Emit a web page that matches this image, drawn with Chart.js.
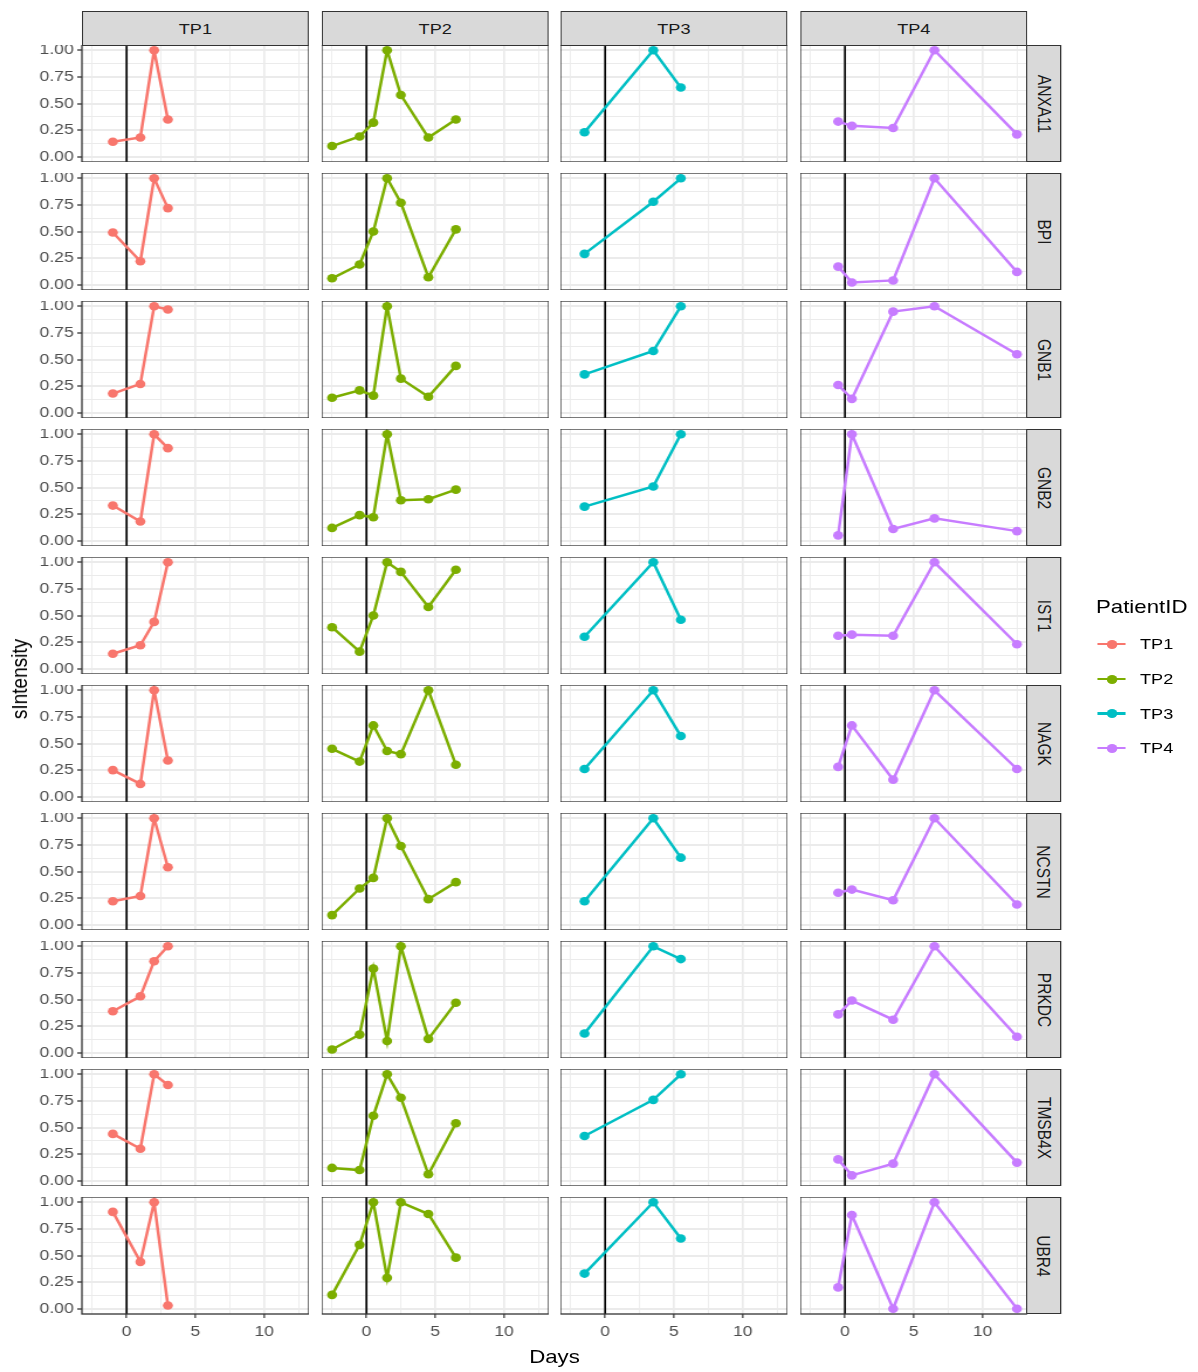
<!DOCTYPE html>
<html>
<head>
<meta charset="utf-8">
<script src="https://cdn.jsdelivr.net/npm/chart.js@4.4.0/dist/chart.umd.min.js"></script>
<style>
  body { margin: 0; background: #fff; width: 1198px; height: 1372px; overflow: hidden;
         font-family: "Liberation Sans", Arial, sans-serif; }
  #fig { position: absolute; left: 0; top: 0; width: 1024px; height: 1372px; transform-origin: 0 0; }
  #fig canvas { position: absolute; }
  .strip { position: absolute; box-sizing: border-box; background: #d9d9d9; border: 1.3px solid #333;
           color: #1a1a1a; font-size: 15.5px; display: flex; align-items: center; justify-content: center; }
  .strip span { white-space: nowrap; }
  .strip.side span { transform: rotate(90deg); }
  .txt { position: absolute; white-space: nowrap; color: #000; }
  .key { position: absolute; }
</style>
</head>
<body>
<div id="fig"></div>
<script>
// ---- data ----
var patients = ["TP1", "TP2", "TP3", "TP4"];
var genes = ["ANXA11", "BPI", "GNB1", "GNB2", "IST1", "NAGK", "NCSTN", "PRKDC", "TMSB4X", "UBR4"];
var colors = ["#F8766D", "#7CAE00", "#00BFC4", "#C77CFF"];

var daysTP1 = [-1, 1, 2, 3];
var daysTP2 = [-2.5, -0.5, 0.5, 1.5, 2.5, 4.5, 6.5];
var daysTP3 = [-1.5, 3.5, 5.5];
var daysTP4 = [-0.5, 0.5, 3.5, 6.5, 12.5];

// one row per gene, same order as genes
var intensityTP1 = [
  [0.14, 0.18, 1.00, 0.35],
  [0.49, 0.22, 1.00, 0.72],
  [0.18, 0.27, 1.00, 0.97],
  [0.33, 0.18, 1.00, 0.87],
  [0.14, 0.22, 0.44, 1.00],
  [0.25, 0.12, 1.00, 0.34],
  [0.22, 0.27, 1.00, 0.54],
  [0.39, 0.53, 0.86, 1.00],
  [0.44, 0.30, 1.00, 0.90],
  [0.91, 0.44, 1.00, 0.03]
];
var intensityTP2 = [
  [0.10, 0.19, 0.32, 1.00, 0.58, 0.18, 0.35],
  [0.06, 0.19, 0.50, 1.00, 0.77, 0.07, 0.52],
  [0.14, 0.21, 0.16, 1.00, 0.32, 0.15, 0.44],
  [0.12, 0.24, 0.22, 1.00, 0.38, 0.39, 0.48],
  [0.39, 0.16, 0.50, 1.00, 0.91, 0.58, 0.93],
  [0.45, 0.33, 0.67, 0.43, 0.40, 1.00, 0.30],
  [0.09, 0.34, 0.44, 1.00, 0.74, 0.24, 0.40],
  [0.03, 0.17, 0.79, 0.11, 1.00, 0.13, 0.47],
  [0.12, 0.10, 0.61, 1.00, 0.78, 0.06, 0.54],
  [0.13, 0.60, 1.00, 0.29, 1.00, 0.89, 0.48]
];
var intensityTP3 = [
  [0.23, 1.00, 0.65],
  [0.29, 0.78, 1.00],
  [0.36, 0.58, 1.00],
  [0.32, 0.51, 1.00],
  [0.30, 1.00, 0.46],
  [0.26, 1.00, 0.57],
  [0.22, 1.00, 0.63],
  [0.18, 1.00, 0.88],
  [0.42, 0.76, 1.00],
  [0.33, 1.00, 0.66]
];
var intensityTP4 = [
  [0.33, 0.29, 0.27, 1.00, 0.21],
  [0.17, 0.02, 0.04, 1.00, 0.12],
  [0.26, 0.13, 0.95, 1.00, 0.55],
  [0.05, 1.00, 0.11, 0.21, 0.09],
  [0.31, 0.32, 0.31, 1.00, 0.23],
  [0.28, 0.67, 0.16, 1.00, 0.26],
  [0.30, 0.33, 0.23, 1.00, 0.19],
  [0.36, 0.49, 0.31, 1.00, 0.15],
  [0.20, 0.05, 0.16, 1.00, 0.17],
  [0.20, 0.88, 0.00, 1.00, 0.00]
];

var xMajor = [0, 5, 10];
var xGrid = [-2.5, 0, 2.5, 5, 7.5, 10, 12.5];
var yMajor = [0, 0.25, 0.5, 0.75, 1];
var yGrid = [0, 0.125, 0.25, 0.375, 0.5, 0.625, 0.75, 0.875, 1];

var dayLists = [daysTP1, daysTP2, daysTP3, daysTP4];
var intensityLists = [intensityTP1, intensityTP2, intensityTP3, intensityTP4];

// ---- layout (the reference is stretched sideways, so x is laid out narrower and scaled) ----
var S = 1.17;
var realLeft = [82.3, 321.6, 561.0, 800.4];
var realW = 226.8;
var panelTop0 = 44.6, rowPitch = 128.08, panelH = 117;
var yAxisW = 62, xAxisH = 36;
var tickFont = { family: "'Liberation Sans', Arial, sans-serif", size: 15 };

var fig = document.getElementById("fig");
fig.style.transform = "scaleX(" + S + ")";

function px(v) { return v + "px"; }
function isIn(list, v) {
  for (var i = 0; i < list.length; i++) if (Math.abs(list[i] - v) < 1e-9) return true;
  return false;
}

var panelPlugin = {
  id: "panel",
  beforeDatasetsDraw: function(chart) {
    // vertical line at day 0
    var ctx = chart.ctx, a = chart.chartArea, x = chart.scales.x.getPixelForValue(0);
    ctx.save();
    ctx.strokeStyle = "#000";
    ctx.lineWidth = 1.7;
    ctx.beginPath();
    ctx.moveTo(x, a.top);
    ctx.lineTo(x, a.bottom);
    ctx.stroke();
    ctx.restore();
  },
  afterDraw: function(chart) {
    var ctx = chart.ctx, a = chart.chartArea;
    ctx.save();
    ctx.strokeStyle = "#333";
    ctx.lineWidth = 1.3;
    ctx.strokeRect(a.left, a.top, a.right - a.left, a.bottom - a.top);
    ctx.restore();
  }
};

function addDiv(cls, l, t, w, h, html) {
  var d = document.createElement("div");
  d.className = cls;
  d.style.left = px(l); d.style.top = px(t);
  if (w != null) d.style.width = px(w);
  if (h != null) d.style.height = px(h);
  d.innerHTML = html;
  fig.appendChild(d);
  return d;
}

function drawPanel(c, r) {
  var pl = Math.round(realLeft[c] / S), pw = Math.round(realW / S);
  var pt = Math.round(panelTop0 + r * rowPitch);
  var left = c === 0, bottom = r === genes.length - 1;

  var cv = document.createElement("canvas");
  var cw = pw + (left ? yAxisW : 0), ch = panelH + (bottom ? xAxisH : 0);
  cv.width = cw; cv.height = ch;
  cv.style.left = px(pl - (left ? yAxisW : 0));
  cv.style.top = px(pt);
  fig.appendChild(cv);

  var days = dayLists[c], vals = intensityLists[c][r];
  var pts = days.map(function(d, i) { return { x: d, y: vals[i] }; });

  new Chart(cv, {
    type: "line",
    data: {
      datasets: [{
        label: patients[c],
        data: pts,
        borderColor: colors[c],
        backgroundColor: colors[c],
        borderWidth: 2.5,
        pointRadius: 4.3,
        pointHoverRadius: 4.3,
        pointBorderWidth: 0,
        tension: 0,
        clip: false
      }]
    },
    options: {
      responsive: false,
      animation: false,
      events: [],
      layout: { padding: 0, autoPadding: false },
      plugins: { legend: { display: false }, tooltip: { enabled: false } },
      scales: {
        x: {
          type: "linear", min: -3.25, max: 13.25, bounds: "data",
          afterBuildTicks: function(s) { s.ticks = xGrid.map(function(v) { return { value: v }; }); },
          afterFit: function(s) { s.height = bottom ? xAxisH : 0; s.paddingLeft = 0; s.paddingRight = 0; },
          border: { display: false },
          grid: {
            color: "#EBEBEB",
            lineWidth: function(ctx) { return isIn(xMajor, ctx.tick.value) ? 1.7 : 0.85; },
            drawTicks: bottom, tickLength: 4, tickWidth: 1.2,
            tickColor: function(ctx) { return isIn(xMajor, ctx.tick.value) ? "#333" : "rgba(0,0,0,0)"; }
          },
          ticks: {
            display: bottom, autoSkip: false, maxRotation: 0, padding: 5,
            color: "#4D4D4D", font: tickFont,
            callback: function(v) { return isIn(xMajor, v) ? String(v) : ""; }
          }
        },
        y: {
          type: "linear", min: -0.05, max: 1.05, bounds: "data",
          afterBuildTicks: function(s) { s.ticks = yGrid.map(function(v) { return { value: v }; }); },
          afterFit: function(s) { s.width = left ? yAxisW : 0; s.paddingTop = 0; s.paddingBottom = 0; },
          border: { display: false },
          grid: {
            color: "#EBEBEB",
            lineWidth: function(ctx) { return isIn(yMajor, ctx.tick.value) ? 2 : 1; },
            drawTicks: left, tickLength: 4, tickWidth: 1.3,
            tickColor: function(ctx) { return isIn(yMajor, ctx.tick.value) ? "#333" : "rgba(0,0,0,0)"; }
          },
          ticks: {
            display: left, autoSkip: false, padding: 3,
            color: "#4D4D4D", font: tickFont,
            callback: function(v) { return isIn(yMajor, v) ? v.toFixed(2) : ""; }
          }
        }
      }
    },
    plugins: [panelPlugin]
  });

  if (r === 0) {
    addDiv("strip", pl, 11, pw, pt - 11 + 1, "<span>" + patients[c] + "</span>");
  }
  if (c === patients.length - 1) {
    var sl = pl + pw - 1;
    addDiv("strip side", sl, pt, Math.round(1061.5 / S) - sl, panelH, "<span>" + genes[r] + "</span>");
  }
}

for (var r = 0; r < genes.length; r++) {
  for (var c = 0; c < patients.length; c++) drawPanel(c, r);
}

// axis titles
var xt = addDiv("txt", 554.5 / S, 1357, null, null, "Days");
xt.style.fontSize = "19px";
xt.style.transform = "translate(-50%,-50%)";
var yt = addDiv("txt", 20 / S, 679, null, null, "sIntensity");
yt.style.fontSize = "19px";
yt.style.transform = "translate(-50%,-50%) rotate(-90deg)";

// legend
var lt = addDiv("txt", 1096 / S, 607, null, null, "PatientID");
lt.style.fontSize = "19px";
lt.style.transform = "translateY(-50%)";
var legendY = [644, 679, 713.5, 748];
for (var i = 0; i < patients.length; i++) {
  var line = addDiv("key", 1098 / S, legendY[i] - 1.3, 28 / S, 2.6, "");
  line.style.background = colors[i];
  var dot = addDiv("key", 1111.5 / S - 4.5, legendY[i] - 4.5, 9, 9, "");
  dot.style.background = colors[i];
  dot.style.borderRadius = "50%";
  var lab = addDiv("txt", 1140 / S, legendY[i], null, null, patients[i]);
  lab.style.fontSize = "15.5px";
  lab.style.transform = "translateY(-50%)";
}
</script>
</body>
</html>
